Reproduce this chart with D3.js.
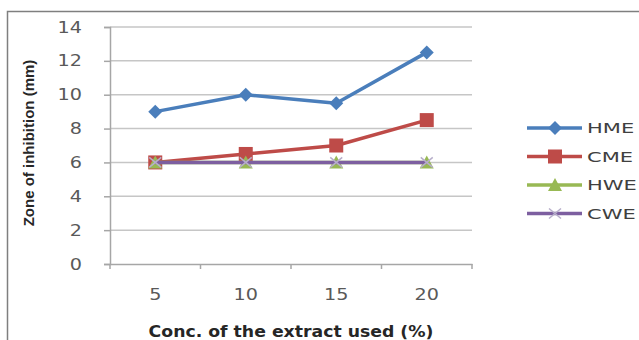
<!DOCTYPE html>
<html>
<head>
<meta charset="utf-8">
<script src="https://cdn.jsdelivr.net/npm/d3@7/dist/d3.min.js"></script>
<style>
  html, body { margin: 0; padding: 0; background: #fff; }
  svg { display: block; }
</style>
</head>
<body>
<svg id="chart" width="639" height="340"></svg>
<script>
// Extract concentrations (%) on the x axis
const categories = ["5", "10", "15", "20"];
// Zone of inhibition (mm) per extract
const seriesNames = ["HME", "CME", "HWE", "CWE"];
const hmeValues = [9, 10, 9.5, 12.5];
const cmeValues = [6, 6.5, 7, 8.5];
const hweValues = [6, 6, 6, 6];
const cweValues = [6, 6, 6, 6];
const yTicks = [0, 2, 4, 6, 8, 10, 12, 14];

const colors = { HME: "#4a7ebb", CME: "#be4b48", HWE: "#98b954", CWE: "#7d5fa0" };
const markers = { HME: "diamond", CME: "square", HWE: "triangle", CWE: "x" };
const series = [
  { name: "HME", values: hmeValues },
  { name: "CME", values: cmeValues },
  { name: "HWE", values: hweValues },
  { name: "CWE", values: cweValues }
];

const FONT = "DejaVu Sans, Verdana, sans-serif";
const svg = d3.select("#chart");
const plot = { left: 110, right: 472, top: 27, bottom: 264 };

// widen text horizontally around its anchor
function stretch(sel, sx) {
  sel.each(function () {
    const t = d3.select(this);
    const x0 = +t.attr("x") || 0;
    t.attr("x", 0).attr("transform", `translate(${x0},0) scale(${sx},1)`);
  });
}

// outer frame (top and left edges only)
svg.append("path")
  .attr("d", "M7.5,340 V11.5 H639")
  .attr("fill", "none").attr("stroke", "#7f7f7f").attr("stroke-width", 1.5);

const x = d3.scaleBand().domain(categories).range([plot.left, plot.right]);
const y = d3.scaleLinear().domain([0, 14]).range([plot.bottom, plot.top]);

// horizontal gridlines
svg.append("g").selectAll("line").data(yTicks.filter(d => d > 0)).join("line")
  .attr("x1", plot.left).attr("x2", plot.right)
  .attr("y1", d => y(d)).attr("y2", d => y(d))
  .attr("stroke", "#c6c6c6").attr("stroke-width", 1.5);

// y axis
const yAxis = svg.append("g").attr("transform", `translate(${plot.left},0)`)
  .call(d3.axisLeft(y).tickValues(yTicks).tickSize(6).tickPadding(22));
yAxis.select(".domain").attr("stroke", "#a6a6a6").attr("stroke-width", 1.5);
yAxis.selectAll(".tick line").attr("stroke", "#a6a6a6").attr("stroke-width", 1.5);
yAxis.selectAll("text").attr("fill", "#595959")
  .style("font-family", FONT).style("font-size", "16px");
stretch(yAxis.selectAll("text"), 1.2);

// x axis
const xAxis = svg.append("g").attr("transform", `translate(0,${plot.bottom})`)
  .call(d3.axisBottom(x).tickSize(0).tickPadding(25));
xAxis.select(".domain").attr("stroke", "#a6a6a6").attr("stroke-width", 1.5);
xAxis.selectAll("text").attr("fill", "#595959")
  .style("font-family", FONT).style("font-size", "16px");
stretch(xAxis.selectAll("text"), 1.2);
// tick marks at category boundaries
const bounds = categories.map(c => x(c)).concat([x(categories[categories.length - 1]) + x.bandwidth()]);
xAxis.append("g").selectAll("line").data(bounds).join("line")
  .attr("x1", d => d).attr("x2", d => d).attr("y1", 0).attr("y2", 5)
  .attr("stroke", "#a6a6a6").attr("stroke-width", 1.5);

// axis titles
const xTitle = svg.append("text")
  .attr("x", 291).attr("y", 337).attr("text-anchor", "middle")
  .attr("fill", "#262626").attr("font-weight", "bold")
  .style("font-family", FONT).style("font-size", "16px")
  .text("Conc. of the extract used (%)");
stretch(xTitle, 1.08);
svg.append("text")
  .attr("transform", "translate(34,143) rotate(-90)").attr("text-anchor", "middle")
  .attr("fill", "#262626").attr("font-weight", "bold")
  .style("font-family", "Liberation Sans Narrow, Liberation Sans, Arial, sans-serif").style("font-size", "15px")
  .text("Zone of inhibition (mm)");

function drawMarker(g, type, color) {
  if (type === "diamond") {
    g.append("path").attr("d", "M0,-7 L7,0 L0,7 L-7,0 Z").attr("fill", color);
  } else if (type === "square") {
    g.append("rect").attr("x", -7).attr("y", -7).attr("width", 14).attr("height", 14).attr("fill", color);
  } else if (type === "triangle") {
    g.append("path").attr("d", "M0,-7 L7,6 L-7,6 Z").attr("fill", color);
  } else {
    g.append("path").attr("d", "M-6,-5 L6,5 M-6,5 L6,-5")
      .attr("stroke", "#b7aeca").attr("stroke-width", 1.5).attr("fill", "none");
  }
}

const line = d3.line()
  .x((d, i) => x(categories[i]) + x.bandwidth() / 2)
  .y(d => y(d));

// series lines and markers
series.forEach(s => {
  const g = svg.append("g");
  g.append("path").datum(s.values)
    .attr("d", line).attr("fill", "none")
    .attr("stroke", colors[s.name]).attr("stroke-width", 3.5)
    .attr("stroke-linejoin", "round");
  s.values.forEach((v, i) => {
    const m = g.append("g")
      .attr("transform", `translate(${x(categories[i]) + x.bandwidth() / 2},${y(v)})`);
    drawMarker(m, markers[s.name], colors[s.name]);
  });
});

// legend
const legend = svg.append("g");
seriesNames.forEach((name, i) => {
  const ly = 128 + i * 28.5;
  const row = legend.append("g");
  row.append("line").attr("x1", 527).attr("x2", 582).attr("y1", ly).attr("y2", ly)
    .attr("stroke", colors[name]).attr("stroke-width", 3.5);
  drawMarker(row.append("g").attr("transform", `translate(555,${ly})`), markers[name], colors[name]);
  const label = row.append("text").attr("x", 587).attr("y", ly).attr("dy", "0.36em")
    .attr("fill", "#404040")
    .style("font-family", FONT).style("font-size", "14.5px")
    .text(name);
  stretch(label, 1.45);
});
</script>
</body>
</html>
